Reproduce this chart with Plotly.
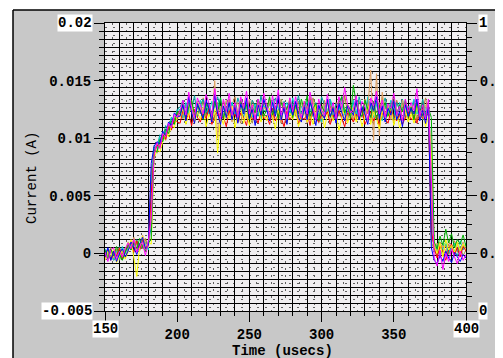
import plotly.graph_objects as go

# sample times (usecs)
t_us = list(range(150, 401, 2))

# current samples, in units of 0.1 mA (1e-4 A), one list per recorded pulse
red = [-4,3,-6,1,-2,5,-5,2, 6,9,1,11,3,12,5,8, 52, 86,94,92,103,99,110,107,117,114,
       113,124,116,121,111,125,118,114,122,117,
       126,112,120,123,115,119,110,124,117,121,
       114,122,118,111,125,116,120,113,123,117,
       119,112,126,115,121,118,110,123,116,120,
       124,113,119,116,122,111,125,117,114,121,
       118,123,112,120,115,124,117,110,122,119,
       114,121,116,125,112,118,123,115,120,111,
       122,117,113,124,119,115,121,112,118,123,
       116,120,113,122,117,119,121,
       20, 5,-4,7,1,-6,3,8,-1,5,-3,6,2]
green = [3,-5,4,-2,6,-1,-6,2, 8,3,10,4,13,6,2,9, 12, 90,88,99,97,108,104,115,112,123,
         121,131,118,127,133,120,128,124,116,130,
         126,119,132,122,135,117,127,130,121,128,
         118,133,124,129,116,127,122,134,126,119,
         125,136,120,128,117,131,123,126,132,118,
         129,121,134,124,137,119,126,130,115,128,
         123,132,118,127,120,131,136,122,129,117,
         146,130,121,119,133,125,118,132,116,128,
         124,131,119,127,134,120,129,123,133,118,
         127,116,131,124,128,119,126,
         118, 10,4,15,7,21,9,17,5,12,8,16,6]
blue = [-3,5,-6,2,-7,0,4,-3, 2,10,5,-1,8,14,4,7, 78, 93,97,95,106,103,114,111,122,119,
        119,129,115,136,122,113,130,124,117,133,
        126,114,138,121,112,128,118,131,116,127,
        113,130,121,135,117,125,111,129,120,134,
        124,115,131,119,137,116,127,112,130,120,
        132,118,114,127,116,131,123,111,129,121,
        117,134,119,126,113,130,122,115,128,125,
        120,133,116,127,121,112,131,124,136,117,
        128,114,126,120,132,116,123,110,129,119,
        126,121,134,115,124,113,128,
        5, -6,-9,-2,-7,2,-4,-8,1,-3,-7,-1,-4]
magenta = [1,-7,3,5,-5,2,-3,4, 9,4,12,1,6,10,-2,11, 30, 85,96,91,104,101,113,109,121,118,
           124,133,120,140,126,118,135,129,121,138,
           130,119,143,125,117,134,123,139,120,131,
           118,136,126,141,121,129,116,134,124,139,
           128,119,137,125,142,120,131,117,135,123,
           136,125,118,132,121,140,127,116,134,124,
           120,138,123,131,117,136,126,144,129,122,
           125,137,119,132,127,116,135,128,141,121,
           133,118,130,126,139,120,128,115,134,123,
           131,124,143,119,129,117,134,
           60, -4,-11,3,-14,0,-7,4,-3,-9,2,-6,-1]
cyan = [4,-1,-3,-6,2,-5,6,0, 5,7,2,9,4,11,8,3, 60, 91,89,101,98,106,110,118,115,124,
        125,118,131,122,129,116,127,133,120,128,
        121,132,117,126,135,119,128,122,131,124,
        117,129,123,134,126,118,130,124,115,128,
        127,120,133,122,129,116,126,131,121,135,
        124,117,128,121,132,126,119,130,124,114,
        129,122,134,125,117,126,131,120,128,119,
        133,124,116,128,121,136,126,118,130,123,
        115,128,122,133,126,117,131,124,129,120,
        126,134,121,128,116,127,124,
        35, 3,8,-1,6,10,1,4,9,2,11,3,7]
yellow = [-6,2,-3,4,-8,-2,3,-5, 1,12,-3,-20,6,15,2,10, 8, 82,90,88,97,105,101,112,109,120,
          118,126,112,121,129,114,123,116,127,110,
          121,115,125,87,119,112,124,117,128,109,
          120,127,113,122,111,125,116,129,114,121,
          115,126,119,108,124,117,128,113,122,116,
          125,110,119,127,114,122,112,129,117,124,
          109,120,126,115,122,107,118,125,113,120,
          127,114,122,110,119,128,112,123,117,108,
          124,115,120,127,111,122,109,118,125,114,
          121,113,128,116,123,110,119,
          90, 6,0,9,-3,12,3,7,1,10,2,8,5]
tan = [2,-3,5,-4,0,4,-2,3, 10,4,14,7,2,16,9,5, 40, 88,95,92,102,98,111,108,119,116,
       121,129,117,131,124,115,132,126,118,130,
       125,116,150,100,128,119,133,124,114,127,
       131,120,128,117,134,123,115,130,121,127,
       124,132,118,126,130,114,128,122,135,120,
       127,116,131,123,113,129,133,119,126,117,
       130,124,114,128,121,134,125,116,129,123,
       115,131,122,127,117,126,159,98,156,102,
       140,121,129,116,132,125,118,133,122,114,
       128,120,131,124,117,129,123,
       45, 4,9,1,7,2,11,5,-1,8,3,10,2]
olive = [-2,1,4,-5,3,-6,0,5, 3,8,6,11,4,7,12,5, 66, 92,87,98,105,100,109,116,113,122,
         124,117,130,121,127,114,129,123,133,118,
         126,120,115,131,122,128,117,134,120,125,
         114,129,123,132,119,113,126,133,118,128,
         123,131,116,125,120,134,124,117,129,127,
         119,132,115,123,128,116,135,125,120,113,
         128,122,131,117,126,119,136,124,115,129,
         124,116,132,126,119,134,114,128,122,131,
         117,127,121,130,135,123,114,126,132,119,
         125,116,129,122,133,118,126,
         10, 3,-2,6,1,7,-1,4,9,1,6,-2,3]
teal = [0,4,-4,2,-3,6,-5,1, 6,3,8,12,4,6,10,7, 24, 94,92,103,100,111,107,118,116,125,
        127,133,120,131,124,137,118,129,134,122,
        130,121,128,136,125,117,132,123,131,120,
        135,126,118,130,122,133,128,119,137,124,
        123,131,119,135,127,116,132,125,120,130,
        126,137,121,129,118,133,124,131,119,136,
        128,122,134,117,130,125,136,120,129,123,
        131,119,136,125,116,133,128,121,132,118,
        127,135,122,129,117,131,124,134,119,128,
        123,132,126,117,134,121,129,
        80, 1,6,-3,4,8,0,7,2,-2,6,3,9]
brown = [3,-2,1,-6,4,-3,2,-4, 4,10,6,2,9,4,13,6, 70, 87,95,93,104,99,112,110,117,121,
         122,130,117,126,133,115,128,121,135,119,
         127,116,131,123,114,132,125,118,129,136,
         121,113,130,126,117,133,122,128,119,131,
         125,135,116,128,122,113,131,124,134,118,
         129,121,115,132,125,136,119,127,113,124,
         133,120,128,116,131,124,118,137,121,127,
         115,130,125,118,134,121,128,112,131,124,
         136,119,127,122,114,133,125,130,117,128,
         121,132,115,129,124,135,120,
         15, 7,2,10,3,-1,8,2,11,5,1,7,3]

UNIT = 1e-4  # 0.1 mA -> A

series = [("#c08040", brown), ("#a09040", olive), ("#00a0a0", teal),
          ("#00d0d0", cyan), ("#e0a060", tan), ("#ff0000", red),
          ("#ffff00", yellow), ("#00b000", green), ("#0000ff", blue),
          ("#ff00ff", magenta)]

# axis tick labels
x_ticks = [150, 200, 250, 300, 350, 400]
x_text = ["", "200", "250", "300", "350", ""]
yl_ticks = [-0.005, 0, 0.005, 0.01, 0.015, 0.02]
yl_text = ["", "0", "0.005", "0.01", "0.015", ""]
yr_ticks = [0, 0.2, 0.4, 0.6, 0.8, 1]
yr_text = ["", "0.2", "0.4", "0.6", "0.8", ""]

FONT = "Liberation Mono, Courier New, monospace"
tickfont = dict(family=FONT, size=14, color="black", weight="bold")

fig = go.Figure()
for color, vals in series:
    fig.add_trace(go.Scatter(x=t_us, y=[v * UNIT for v in vals], mode="lines",
                             line=dict(color=color, width=1), showlegend=False,
                             hoverinfo="skip"))
fig.add_trace(go.Scatter(x=[None], y=[None], xaxis="x2", yaxis="y2", showlegend=False))
fig.add_trace(go.Scatter(x=[None], y=[None], xaxis="x", yaxis="y3", showlegend=False))

YG = 0.025 / 36  # horizontal grid step

# the page body adds an 8 px offset; figure fills the rest of the window
fig.update_layout(
    template="none",
    width=495, height=350,
    margin=dict(l=97, r=37, t=15, b=47, pad=0),
    paper_bgcolor="#c8c8c8", plot_bgcolor="#f0eef0",
    showlegend=False,
    xaxis=dict(range=[150, 400], tick0=150, dtick=10, showgrid=True, automargin=False,
               gridcolor="black", gridwidth=1, ticks="outside", ticklen=4,
               tickcolor="black", showticklabels=False, showline=True,
               linecolor="black", mirror=True, zeroline=False,
               minor=dict(tick0=155, dtick=10, showgrid=True, gridcolor="#606060",
                          griddash="2px,5px", gridwidth=1, ticks="")),
    xaxis2=dict(overlaying="x", anchor="y", side="bottom", range=[150, 400],
                tickvals=x_ticks, ticktext=x_text, ticks="outside", ticklen=10,
                tickcolor="black", showgrid=False, zeroline=False, automargin=False,
                showline=False, tickfont=tickfont),
    yaxis=dict(range=[-0.005, 0.02], tick0=-0.005, dtick=YG, showgrid=True,
               automargin=False,
               gridcolor="black", gridwidth=1, ticks="outside", ticklen=5,
               tickcolor="black", showticklabels=False, showline=True,
               linecolor="black", mirror=True, zeroline=False,
               minor=dict(tick0=-0.005 + YG / 2, dtick=YG, showgrid=True,
                          gridcolor="#606060", griddash="2px,6px", gridwidth=1,
                          ticks="")),
    yaxis2=dict(overlaying="y", anchor="x", side="left", range=[-0.005, 0.02],
                tickvals=yl_ticks, ticktext=yl_text, ticks="outside", ticklen=10,
                tickcolor="black", showgrid=False, zeroline=False, automargin=False,
                showline=False, tickfont=tickfont),
    yaxis3=dict(overlaying="y", anchor="x", side="right", range=[0, 1],
                tickvals=yr_ticks, ticktext=yr_text, ticks="outside", ticklen=10,
                tickcolor="black", showgrid=False, zeroline=False, automargin=False,
                showline=False, tickfont=tickfont,
                minor=dict(dtick=0.05, ticks="outside", ticklen=5,
                           tickcolor="black", showgrid=False)),
)

# helpers: window pixel -> paper coordinate (plot area spans x 105..466, y 23..311)
px_x = lambda p: (p - 105) / 361.0
px_y = lambda p: 1 - (p - 23) / 288.0

# white margin outside the dialog frame, and the frame lines
fig.add_shape(type="rect", xref="paper", yref="paper", x0=px_x(-5), x1=px_x(520),
              y0=px_y(10), y1=px_y(-5), fillcolor="white", line_width=0)
fig.add_shape(type="rect", xref="paper", yref="paper", x0=px_x(-5), x1=px_x(13),
              y0=px_y(370), y1=px_y(-5), fillcolor="white", line_width=0)
fig.add_shape(type="line", xref="paper", yref="paper", x0=px_x(13), x1=px_x(520),
              y0=px_y(10), y1=px_y(10), line=dict(color="black", width=1.5))
fig.add_shape(type="line", xref="paper", yref="paper", x0=px_x(13), x1=px_x(13),
              y0=px_y(370), y1=px_y(10), line=dict(color="black", width=1.5))

# end labels with white boxes
ann = dict(font=tickfont, bgcolor="white", borderpad=0, showarrow=False)
fig.add_annotation(text="0.02", xref="paper", x=0, yref="y", y=0.02,
                   xanchor="right", yanchor="middle", xshift=-12, **ann)
fig.add_annotation(text="-0.005", xref="paper", x=0, yref="y", y=-0.005,
                   xanchor="right", yanchor="middle", xshift=-12, **ann)
fig.add_annotation(text="150", xref="x", x=150, yref="paper", y=0,
                   xanchor="center", yanchor="middle", yshift=-18, **ann)
fig.add_annotation(text="400", xref="x", x=400, yref="paper", y=0,
                   xanchor="center", yanchor="middle", yshift=-18, **ann)
fig.add_annotation(text="1", xref="paper", x=1, yref="y", y=0.02,
                   xanchor="left", yanchor="middle", xshift=12, **ann)
fig.add_annotation(text="0", xref="paper", x=1, yref="y", y=-0.005,
                   xanchor="left", yanchor="middle", xshift=12, **ann)

# axis titles
fig.add_annotation(text="Current (A)", xref="paper", x=px_x(32), yref="paper",
                   y=px_y(178), textangle=-90, showarrow=False,
                   xanchor="center", yanchor="middle",
                   font=dict(family=FONT, size=14, color="black"))
fig.add_annotation(text="Time (usecs)", xref="paper", x=px_x(282), yref="paper",
                   y=px_y(351), showarrow=False, xanchor="center", yanchor="middle",
                   font=dict(family=FONT, size=14, color="black", weight="bold"))

fig.write_html("out.html")
